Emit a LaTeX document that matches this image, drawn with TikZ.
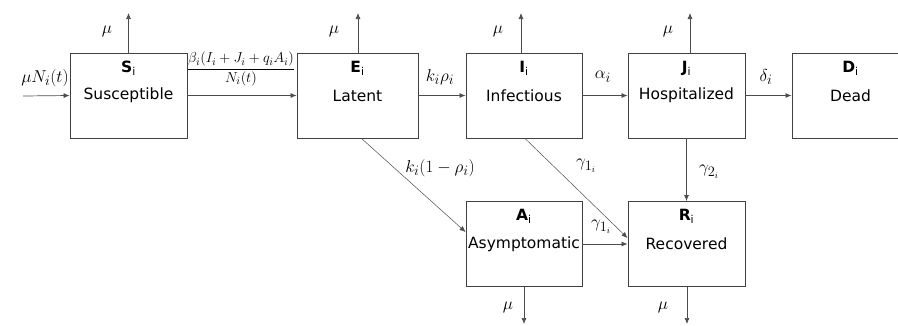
\documentclass[tikz,border=0pt]{standalone}
\usepackage{amsmath}
\usepackage{fontspec}
\setmainfont{DejaVu Sans}
\usetikzlibrary{arrows.meta,calc}
\newcommand{\mysub}[1]{\textsubscript{\normalfont #1}}
\begin{document}
\begin{tikzpicture}[x=1pt,y=-1pt,
  comp/.style={draw=black!75,line width=0.9pt,minimum width=117pt,minimum height=85pt,inner sep=0pt,font=\fontsize{15.5}{18}\selectfont},
  flow/.style={draw=black!70,line width=0.7pt,-{Latex[length=6pt,width=5pt]}},
  thin/.style={draw=black!70,line width=0.5pt,-{Latex[length=6pt,width=5pt]}},
  lab/.style={inner sep=1pt,font=\fontsize{19}{22}\selectfont},
  ttl/.style={anchor=north,yshift=-8pt,inner sep=0pt,font=\fontsize{15.5}{18}\selectfont\bfseries}]
\useasboundingbox (0,0) rectangle (898,325);
% compartments
\node[comp,label={[ttl]north:S\mysub{i}}] (S) at (128.5,95.5) {Susceptible};
\node[comp,minimum width=121pt,label={[ttl]north:E\mysub{i}}] (E) at (357.5,95.5) {Latent};
\node[comp,minimum width=116pt,label={[ttl]north:I\mysub{i}}] (I) at (524,95.5) {Infectious};
\node[comp,label={[ttl]north:J\mysub{i}}] (J) at (686.5,95.5) {Hospitalized};
\node[comp,label={[ttl]north:D\mysub{i}}] (D) at (850.5,95.5) {Dead};
\node[comp,minimum width=116pt,label={[ttl]north:A\mysub{i}}] (A) at (524,244) {Asymptomatic};
\node[comp,label={[ttl]north:R\mysub{i}}] (R) at (686.5,244) {Recovered};
% free ends
\coordinate (in) at (23,96);
\coordinate (Sm) at (128.5,13);
\coordinate (Em) at (358,13);
\coordinate (Im) at (521,13);
\coordinate (Jm) at (690,13);
\coordinate (Am) at (524,324);
\coordinate (Rm) at (687,324);
% main chain
\draw[flow] (in) -- (S.west);
\draw[flow] (S.east) -- (E.west);
\draw[flow] (E.east) -- (I.west);
\draw[flow] (I.east) -- (J.west);
\draw[flow] (J.east) -- (D.west);
% deaths
\draw[flow] (S.north) -- (Sm);
\draw[flow] (E.north -| Em) -- (Em);
\draw[flow] (I.north -| Im) -- (Im);
\draw[flow] (J.north -| Jm) -- (Jm);
\draw[flow] (A.south) -- (Am);
\draw[flow] (R.south -| Rm) -- (Rm);
% recovery etc.
\draw[thin] ($(E.south)+(4,0)$) -- ([yshift=12pt]A.west);
\draw[thin] ($(I.south)+(1,0)$) -- ([yshift=6pt]R.west);
\draw[flow] (A.east) -- (R.west);
\draw[flow] (J.south) -- (R.north);
% labels
\node[lab] (l1) at (45,78) {$\mu N_i(t)$};
\node[lab,font=\fontsize{15}{17}\selectfont] (l2) at (241,69) {$\dfrac{\beta_i(I_i+J_i+q_iA_i)}{N_i(t)}$};
\node[lab] (l3) at (440,77) {$k_i\rho_i$};
\node[lab] (l4) at (603,77) {$\alpha_i$};
\node[lab] (l5) at (766,77) {$\delta_i$};
\node[lab] (m1) at (107,31) {$\mu$};
\node[lab] (m2) at (334,31) {$\mu$};
\node[lab] (m3) at (498,31) {$\mu$};
\node[lab] (m4) at (668,31) {$\mu$};
\node[lab] (m5) at (508,307) {$\mu$};
\node[lab] (m6) at (663,307) {$\mu$};
\node[lab] (l6) at (440,168) {$k_i(1-\rho_i)$};
\node[lab] (l7) at (586,166) {$\gamma_{1_i}$};
\node[lab] (l8) at (601,227) {$\gamma_{1_i}$};
\node[lab] (l9) at (709,172) {$\gamma_{2_i}$};
\end{tikzpicture}
\end{document}
